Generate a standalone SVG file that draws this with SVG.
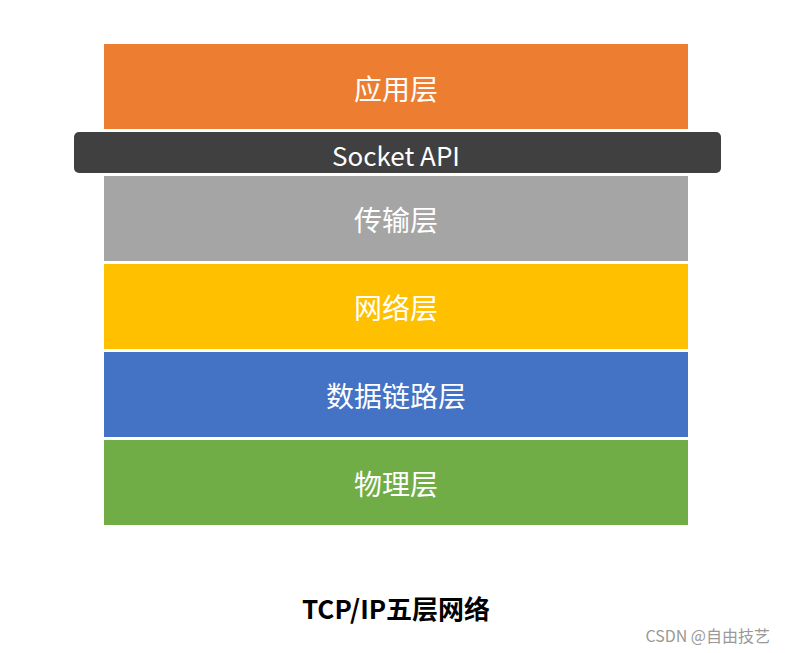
<svg xmlns="http://www.w3.org/2000/svg" width="785" height="653" viewBox="0 0 785 653">
<style>
.l{font-family:"Noto Sans CJK SC","Noto Sans",sans-serif;font-size:28px;fill:#fff;text-anchor:middle;dominant-baseline:central}
</style>
<rect width="785" height="653" fill="#fff"/>
<g id="app"><rect x="104" y="44" width="584" height="85" fill="#ED7D31"/><text class="l" x="396" y="88">应用层</text></g>
<g id="socket"><rect x="74" y="132" width="647" height="41" rx="5" fill="#404040"/><text class="l" x="396" y="154" style="font-size:26px">Socket API</text></g>
<g id="transport"><rect x="104" y="176" width="584" height="85" fill="#A5A5A5"/><text class="l" x="396" y="219">传输层</text></g>
<g id="network"><rect x="104" y="264" width="584" height="85" fill="#FFC000"/><text class="l" x="396" y="307">网络层</text></g>
<g id="datalink"><rect x="104" y="352" width="584" height="85" fill="#4472C4"/><text class="l" x="396" y="395">数据链路层</text></g>
<g id="physical"><rect x="104" y="440" width="584" height="85" fill="#70AD47"/><text class="l" x="396" y="483">物理层</text></g>
<g id="connectors"/>
<text x="396" y="607" font-family="Noto Sans CJK SC,sans-serif" font-size="26" font-weight="bold" fill="#000" text-anchor="middle" dominant-baseline="central">TCP/IP五层网络</text>
<text x="770" y="635" font-family="Noto Sans CJK SC,sans-serif" font-size="16" fill="#999" text-anchor="end" dominant-baseline="central">CSDN @自由技艺</text>
</svg>
